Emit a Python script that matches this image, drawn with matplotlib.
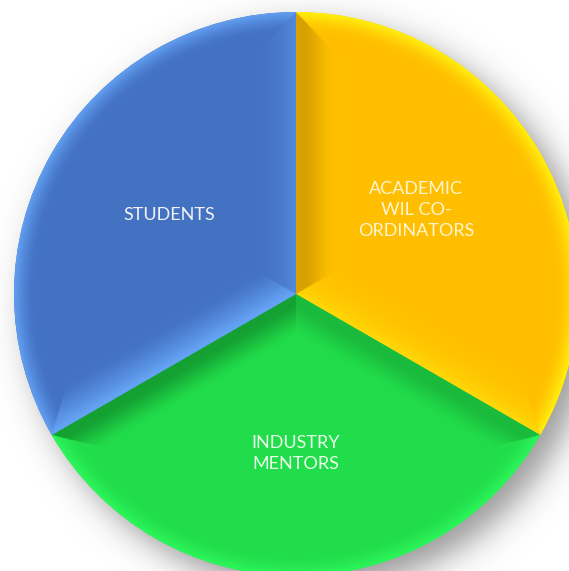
import numpy as np
import matplotlib
matplotlib.use('Agg')
import matplotlib.pyplot as plt
from matplotlib.colors import to_rgb

# Participant groups (equal share)
categories = ['ACADEMIC\nWIL CO-\nORDINATORS', 'INDUSTRY\nMENTORS', 'STUDENTS']
values = [1, 1, 1]
base_colors = ['#FFC000', '#22DD4B', '#4472C4']
light_colors = ['#FFFF14', '#30FF60', '#6CAEFF']
dark_colors = ['#B88800', '#14A032', '#2E5498']
text_colors = ['#FFF4D0', '#E8FFE8', '#F2F2F2']
# label radius (fraction of pie radius) and angle nudge in degrees
label_radius = [0.52, 0.565, 0.53]
label_nudge = [5, 0, -2]

W, H, DPI = 569, 571, 100
R_PX = 282.0
CX, CY = 296.0, 294.0   # pie centre in pixels from top-left

fig = plt.figure(figsize=(W / DPI, H / DPI), dpi=DPI)
ax = fig.add_axes([0, 0, 1, 1])
x0, x1 = -CX / R_PX, (W - CX) / R_PX
y0, y1 = -(H - CY) / R_PX, CY / R_PX
ax.set_xlim(x0, x1)
ax.set_ylim(y0, y1)
ax.set_aspect('equal')
ax.axis('off')

# pixel grid in data units (2x supersampled)
ss = 2
xs = np.linspace(x0, x1, W * ss)
ys = np.linspace(y1, y0, H * ss)
X, Y = np.meshgrid(xs, ys)

# soft drop shadow towards lower right
sdx, sdy, srad, soft = 0.05, -0.05, 1.0, 0.035
dist = np.hypot(X - sdx, Y - sdy)
shadow = np.zeros(X.shape + (4,))
shadow[..., 3] = 0.40 / (1 + np.exp((dist - srad) / soft))
ax.imshow(shadow, extent=(x0, x1, y0, y1), origin='upper', zorder=0,
          interpolation='bilinear')

wedges, texts = ax.pie(values, labels=categories, colors=base_colors,
                       startangle=90, counterclock=False, radius=1.0,
                       labeldistance=0.54, center=(0, 0),
                       wedgeprops=dict(linewidth=0, zorder=1),
                       textprops=dict(fontsize=13, family='Lato'))
ax.set_xlim(x0, x1)
ax.set_ylim(y0, y1)

rho = np.hypot(X, Y)
phi = np.arctan2(Y, X)
la = np.radians(-60)
light_dir = np.array([np.cos(la), np.sin(la)])
bw = 0.14  # bevel width in radius units


def bevel_image(wedge, base, light, dark):
    t1 = np.radians(wedge.theta1)
    t2 = np.radians(wedge.theta2)
    d_arc = 1.0 - rho
    d1 = np.cos(t1) * Y - np.sin(t1) * X
    d2 = np.sin(t2) * X - np.cos(t2) * Y
    stack = np.stack([d_arc, d1, d2])
    idx = np.argmin(stack, axis=0)
    d = np.clip(np.min(stack, axis=0), 0, None)

    nx = np.where(idx == 1, np.cos(t1 - np.pi / 2), np.cos(t2 + np.pi / 2))
    ny = np.where(idx == 1, np.sin(t1 - np.pi / 2), np.sin(t2 + np.pi / 2))
    facing = nx * light_dir[0] + ny * light_dir[1] - 0.25

    u = np.clip(1 - d / bw, 0, 1)
    ramp = u * u * (3 - 2 * u)
    # outer rim is always lit, straight edges follow the light direction
    arc_rim = 0.75 * np.clip(1 - d / 0.07, 0, 1) ** 1.5
    edge = 0.9 * facing * ramp + 0.15 * np.exp(-(d / 0.025) ** 2)
    s = np.where(idx == 0, arc_rim, edge)
    s = np.clip(s, -1, 1)[..., None]

    b, lc, dc = (np.array(to_rgb(c)) for c in (base, light, dark))
    rgb = np.where(s >= 0, b + s * (lc - b), b + (-s) * (dc - b))
    return np.clip(rgb, 0, 1)


for w, bc, lc, dc in zip(wedges, base_colors, light_colors, dark_colors):
    img = ax.imshow(bevel_image(w, bc, lc, dc), extent=(x0, x1, y0, y1),
                    origin='upper', zorder=2, interpolation='bilinear')
    img.set_clip_path(w)

for t, c, w, lr, nd in zip(texts, text_colors, wedges, label_radius, label_nudge):
    mid = np.radians((w.theta1 + w.theta2) / 2 + nd)
    t.set_position((lr * np.cos(mid), lr * np.sin(mid)))
    t.set_horizontalalignment('center')
    t.set_verticalalignment('center')
    t.set_multialignment('center')
    t.set_linespacing(1.4)
    t.set_color(c)
    t.set_zorder(5)

fig.savefig('out.png', dpi=DPI, facecolor='white')
